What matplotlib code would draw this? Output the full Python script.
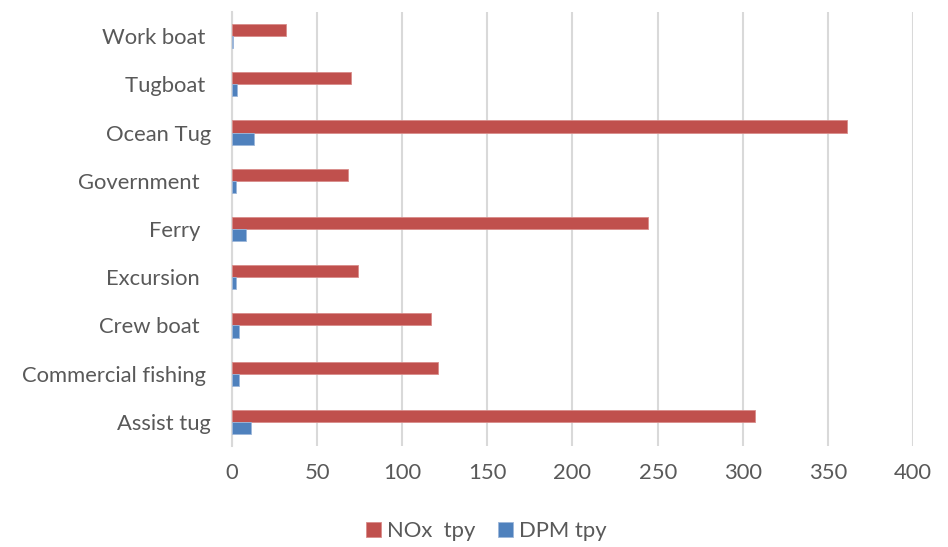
import matplotlib.pyplot as plt
import numpy as np

# vessel categories, bottom to top as drawn
vessels = ["Assist tug", "Commercial fishing ", "Crew boat  ", "Excursion  ",
           "Ferry  ", "Government  ", "Ocean Tug", "Tugboat ", "Work boat "]
nox_tpy = [307.2, 120.8, 117.1, 73.8, 244.5, 68.1, 361.4, 69.7, 31.5]
dpm_tpy = [11.2, 4.1, 4.1, 2.5, 8.4, 2.2, 12.9, 2.7, 0.6]

RED = "#C0504D"
BLUE = "#4F81BD"
GRID = "#D9D9D9"
TXT = "#595959"

plt.rcParams["font.family"] = ["Lato", "DejaVu Sans"]

fig = plt.figure(figsize=(9.48, 5.47), dpi=100)
ax = fig.add_axes([0.2447, 0.1846, 0.7184, 0.7935])

y = np.arange(len(vessels))
h = 0.25
ax.barh(y + h / 2, nox_tpy, height=h, color=RED, edgecolor="#D98C8A",
        linewidth=0.6, label="NOx  tpy", zorder=3)
ax.barh(y - h / 2, dpm_tpy, height=h, color=BLUE, edgecolor="#9DB7DA",
        linewidth=0.6, label="DPM tpy", zorder=3)

ax.set_xlim(0, 400)
ax.set_ylim(-0.5, len(vessels) - 0.5)
ax.set_xticks(np.arange(0, 401, 50))
ax.set_yticks(y)
ax.set_yticklabels(vessels)

ax.grid(axis="x", color=GRID, linewidth=1.5, zorder=0)
for s in ["top", "right", "bottom"]:
    ax.spines[s].set_visible(False)
ax.spines["left"].set_color(GRID)
ax.spines["left"].set_linewidth(1.5)
ax.tick_params(axis="both", length=0, labelsize=15.8, labelcolor=TXT)
ax.tick_params(axis="x", pad=12)
ax.tick_params(axis="y", pad=15)

fig.legend(loc="lower center", bbox_to_anchor=(0.513, -0.026), ncol=2,
           frameon=False, fontsize=15.8, labelcolor=TXT, handlelength=0.68,
           handleheight=0.68, handletextpad=0.3, columnspacing=1.0)

fig.savefig("out.png", dpi=100)
